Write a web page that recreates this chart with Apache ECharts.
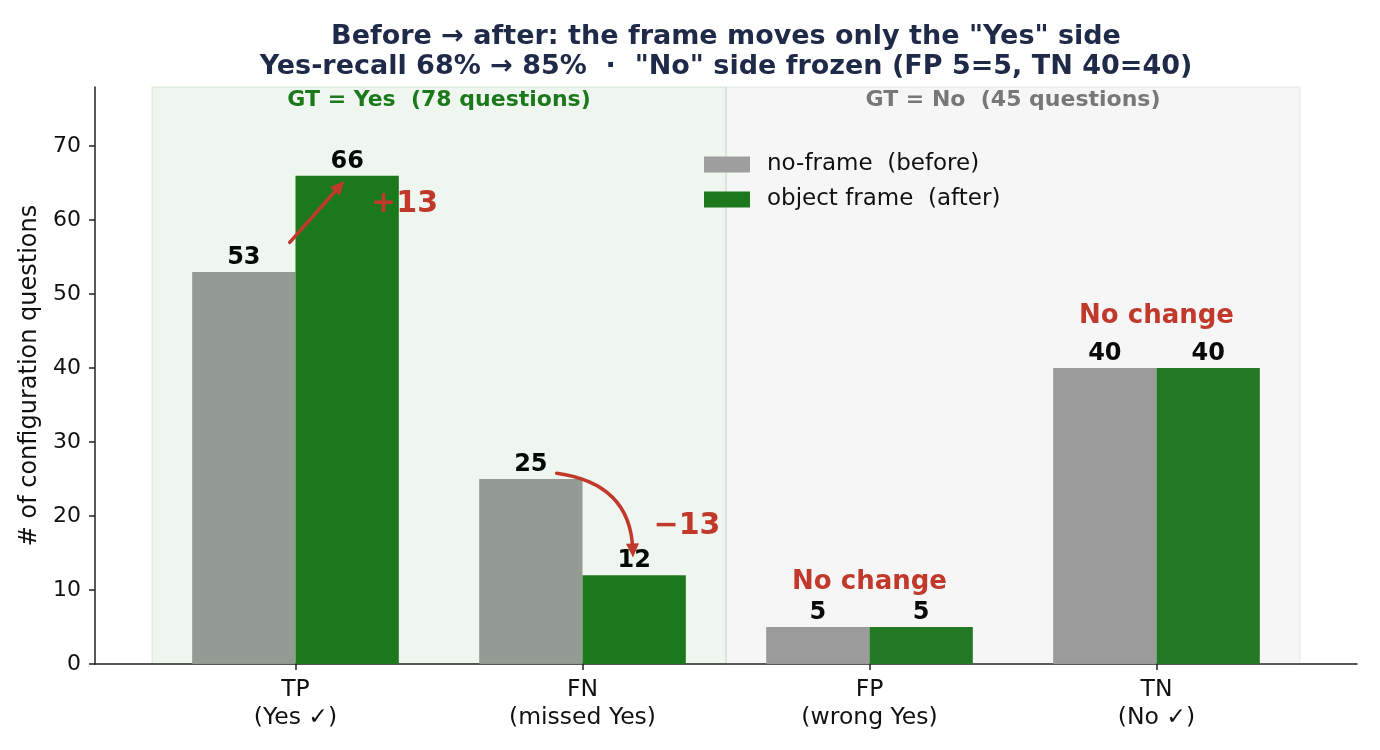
<!DOCTYPE html>
<html>
<head>
<meta charset="utf-8">
<script src="https://cdn.jsdelivr.net/npm/echarts@6/dist/echarts.min.js"></script>
<style>
    html, body { margin: 0; padding: 0; background: #fff; }
    #chart { width: 1380px; height: 750px; }
</style>
</head>
<body>
<div id="chart"></div>
<script>
// data
var categories = ['TP\n(Yes ✓)', 'FN\n(missed Yes)', 'FP\n(wrong Yes)', 'TN\n(No ✓)'];
var seriesNames = ['no-frame  (before)', 'object frame  (after)'];
var beforeVals = [53, 25, 5, 40];
var afterVals = [66, 12, 5, 40];
var yTicks = [0, 10, 20, 30, 40, 50, 60, 70];
var yMax = 78;

// shaded ground-truth groups: [from, to, label]
var regions = [
    [-0.5, 1.5, 'GT = Yes  (78 questions)'],
    [1.5, 3.5, 'GT = No  (45 questions)']
];

// annotations, in category-index / value units
var arrows = [
    {from: [-0.02, 57], to: [0.17, 65.3], bend: 0},
    {from: [0.91, 25.8], to: [1.176, 14.4], bend: 0.42}
];
var notes = [
    {pos: [0.38, 62.2], text: '+13', size: 30},
    {pos: [1.364, 18.6], text: '\u221213', size: 30},
    {pos: [2, 11.1], text: 'No change', size: 26},
    {pos: [3, 47], text: 'No change', size: 26}
];

var FONT = 'DejaVu Sans';
var GRAY = '#9e9e9e';
var GREEN = '#1c781c';
var RED = '#c0392b';
var INK = '#222';

var el = document.getElementById('chart');
var chart = echarts.init(el);

var regionFill = ['rgba(30,123,30,0.07)', 'rgba(128,128,128,0.07)'];
var regionEdge = ['rgba(30,123,30,0.10)', 'rgba(128,128,128,0.10)'];
var regionText = ['#1c781c', '#777777'];

function barLabel() {
    return {
        show: true,
        position: 'top',
        distance: 2,
        color: '#000',
        fontFamily: FONT,
        fontWeight: 'bold',
        fontSize: 24
    };
}

chart.setOption({
    animation: false,
    backgroundColor: '#fff',
    textStyle: {fontFamily: FONT},
    title: {
        text: 'Before \u2192 after: the frame moves only the "Yes" side\n'
            + 'Yes-recall 68% \u2192 85%  \u00b7  "No" side frozen (FP 5=5, TN 40=40)',
        left: 726,
        textAlign: 'center',
        top: 22,
        padding: 0,
        textStyle: {
            fontFamily: FONT,
            fontWeight: 'bold',
            fontSize: 27,
            lineHeight: 30,
            color: '#1e2a48'
        }
    },
    legend: {
        data: seriesNames,
        orient: 'vertical',
        left: 704,
        top: 153,
        padding: 0,
        itemWidth: 46,
        itemHeight: 16,
        itemGap: 12,
        icon: 'rect',
        textStyle: {fontFamily: FONT, fontSize: 23, lineHeight: 16, color: '#111', padding: [0, 0, 0, 12]}
    },
    grid: [
        {left: 152, right: 80, top: 87, bottom: 86},
        {left: 95, right: 23, top: 87, bottom: 86}
    ],
    xAxis: [
        {
            type: 'category',
            gridIndex: 0,
            data: categories,
            axisLine: {show: false},
            axisTick: {show: true, alignWithLabel: true, length: 6, lineStyle: {color: INK, width: 1.5}},
            axisLabel: {
                margin: 12,
                color: '#111',
                fontFamily: FONT,
                fontSize: 23.5,
                lineHeight: 28
            }
        },
        {
            type: 'value',
            gridIndex: 1,
            min: 0,
            max: 1,
            axisLine: {show: true, lineStyle: {color: INK, width: 1.5}},
            axisTick: {show: false},
            axisLabel: {show: false},
            splitLine: {show: false}
        },
        {
            type: 'value',
            gridIndex: 0,
            min: -0.5,
            max: 3.5,
            show: false
        }
    ],
    yAxis: [
        {
            type: 'value',
            gridIndex: 0,
            min: 0,
            max: yMax,
            show: false
        },
        {
            type: 'value',
            gridIndex: 1,
            min: 0,
            max: yMax,
            interval: 10,
            name: '# of configuration questions',
            nameLocation: 'middle',
            nameGap: 52,
            nameTextStyle: {fontFamily: FONT, fontSize: 24, color: '#111'},
            axisLine: {show: true, lineStyle: {color: INK, width: 1.5}},
            axisTick: {show: true, length: 6, lineStyle: {color: INK, width: 1.5}, customValues: yTicks},
            axisLabel: {
                margin: 14,
                color: '#111',
                fontFamily: FONT,
                fontSize: 22,
                customValues: yTicks
            },
            splitLine: {show: false}
        }
    ],
    series: [
        {
            name: seriesNames[0],
            type: 'bar',
            xAxisIndex: 0,
            yAxisIndex: 0,
            data: beforeVals,
            barWidth: '36%',
            barGap: '0%',
            itemStyle: {color: GRAY},
            label: barLabel()
        },
        {
            name: seriesNames[1],
            type: 'bar',
            xAxisIndex: 0,
            yAxisIndex: 0,
            data: afterVals,
            barWidth: '36%',
            barGap: '0%',
            itemStyle: {color: GREEN},
            label: barLabel()
        },
        {
            // translucent group bands drawn over the bars
            type: 'custom',
            xAxisIndex: 2,
            yAxisIndex: 0,
            z: 3,
            silent: true,
            data: regions,
            renderItem: function (params, api) {
                var i = params.dataIndex;
                var p0 = api.coord([api.value(0), yMax]);
                var p1 = api.coord([api.value(1), 0]);
                return {
                    type: 'group',
                    children: [
                        {
                            type: 'rect',
                            shape: {x: p0[0], y: p0[1], width: p1[0] - p0[0], height: p1[1] - p0[1]},
                            style: {fill: regionFill[i], stroke: regionEdge[i], lineWidth: 1.5}
                        },
                        {
                            type: 'text',
                            x: (p0[0] + p1[0]) / 2,
                            y: p0[1] + 13,
                            style: {
                                text: regions[i][2],
                                align: 'center',
                                verticalAlign: 'middle',
                                fill: regionText[i],
                                font: 'bold 22px "DejaVu Sans"'
                            }
                        }
                    ]
                };
            }
        }
    ]
});

// arrows and notes, placed through the chart's own scales
function px(pt) {
    return chart.convertToPixel({seriesIndex: 2}, pt);
}

var gfx = [];
arrows.forEach(function (a) {
    var s = px(a.from);
    var e = px(a.to);
    var c = [
        (s[0] + e[0]) / 2 + a.bend * (e[1] - s[1]),
        (s[1] + e[1]) / 2 - a.bend * (e[0] - s[0])
    ];
    var from = a.bend ? c : s;
    var dx = e[0] - from[0], dy = e[1] - from[1];
    var len = Math.sqrt(dx * dx + dy * dy);
    var ux = dx / len, uy = dy / len;
    var headL = 14, headW = 6.5;
    var base = [e[0] - ux * headL, e[1] - uy * headL];
    var lineEnd = [e[0] - ux * headL * 0.6, e[1] - uy * headL * 0.6];
    if (a.bend) {
        gfx.push({
            type: 'bezierCurve',
            shape: {x1: s[0], y1: s[1], x2: lineEnd[0], y2: lineEnd[1], cpx1: c[0], cpy1: c[1]},
            style: {stroke: RED, lineWidth: 3.5, fill: null, lineCap: 'round'},
            z: 10
        });
    } else {
        gfx.push({
            type: 'line',
            shape: {x1: s[0], y1: s[1], x2: lineEnd[0], y2: lineEnd[1]},
            style: {stroke: RED, lineWidth: 3.5, lineCap: 'round'},
            z: 10
        });
    }
    gfx.push({
        type: 'polygon',
        shape: {points: [
            e,
            [base[0] - uy * headW, base[1] + ux * headW],
            [base[0] + uy * headW, base[1] - ux * headW]
        ]},
        style: {fill: RED},
        z: 10
    });
});
notes.forEach(function (n) {
    var p = px(n.pos);
    gfx.push({
        type: 'text',
        x: p[0],
        y: p[1],
        style: {
            text: n.text,
            align: 'center',
            verticalAlign: 'middle',
            fill: RED,
            font: 'bold ' + n.size + 'px "DejaVu Sans"'
        },
        z: 10
    });
});
chart.setOption({graphic: gfx});
</script>
</body>
</html>
